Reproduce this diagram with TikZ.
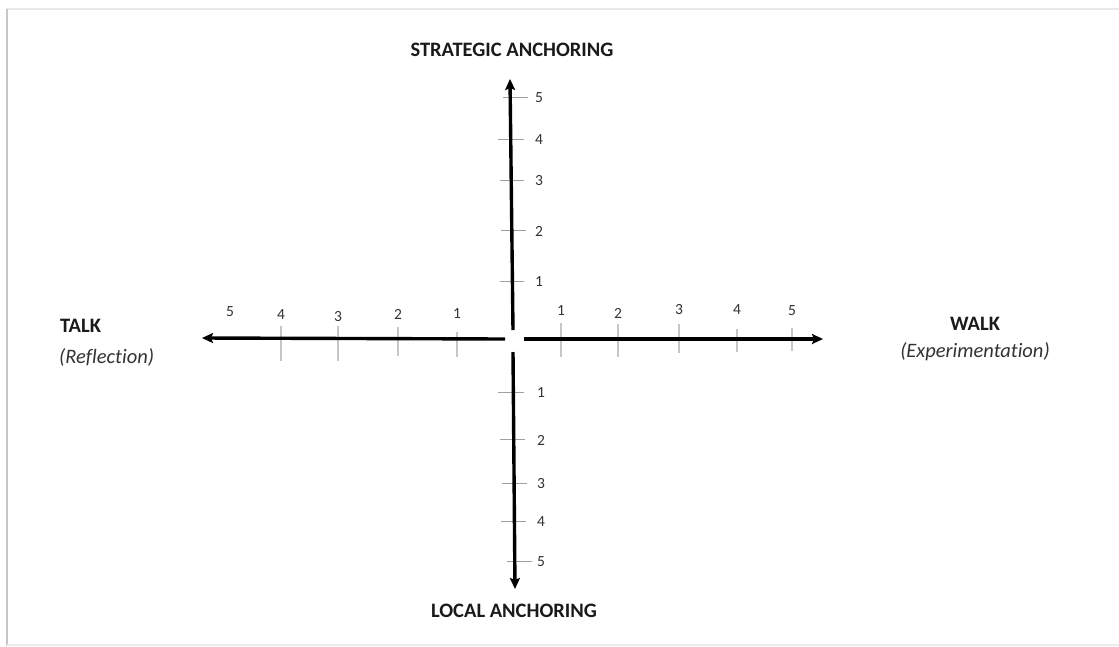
\documentclass[tikz,border=0pt]{standalone}
\usepackage{fontspec}
\setmainfont{Carlito}[Ligatures={NoCommon}]
\usetikzlibrary{arrows.meta}
\definecolor{txt}{HTML}{1A1A1A}
\definecolor{num}{HTML}{333333}
\begin{document}
\begin{tikzpicture}[x=1pt,y=-1pt,
  axis/.style={line width=3.4pt,black,-{Stealth[length=11pt,width=10pt,inset=2pt]}},
  vtick/.style={gray!75,line width=1pt},
  htick/.style={gray!45,line width=1.5pt},
  numlbl/.style={font=\fontsize{15.5}{17}\selectfont,text=num,inner sep=0pt},
  title/.style={font=\fontsize{20.5}{24}\selectfont\bfseries,text=txt,inner sep=0pt},
  sub/.style={font=\fontsize{20.5}{24}\selectfont\itshape,text=num,inner sep=0pt}]
\useasboundingbox (0,0) rectangle (1119,646);
\fill[white] (0,0) rectangle (1119,646);
% frame shadow
\draw[gray!18,line width=2.5pt] (7,9) -- (1119,9);
\draw[gray!45,line width=2pt] (7,9) -- (7,646);
\draw[gray!15,line width=1.5pt] (7,645) -- (1119,645);
% axis coordinates
\coordinate (upS) at (513,330);
\coordinate (upE) at (510,79);
\coordinate (dnS) at (513,352);
\coordinate (dnE) at (515,589);
\coordinate (lfS) at (505,339);
\coordinate (lfE) at (202,338);
\coordinate (rtS) at (524,339);
\coordinate (rtE) at (823,339);
% ticks vertical top
\foreach \n/\y/\a/\b in {5/97/503/528,4/139/498/524,3/180/500/524,2/230/501/526,1/281/500/524}{
  \coordinate (ut\n a) at (\a,\y); \coordinate (ut\n b) at (\b,\y);
  \draw[vtick] (ut\n a) -- (ut\n b);
  \node[numlbl,anchor=west] (utl\n) at (535,\y+1) {\n};
}
% ticks vertical bottom
\foreach \n/\y/\a/\b in {1/392/498/524,2/439/500/525,3/483/502/527,4/521/501/526,5/561/507/532}{
  \coordinate (dt\n a) at (\a,\y); \coordinate (dt\n b) at (\b,\y);
  \draw[vtick] (dt\n a) -- (dt\n b);
  \node[numlbl,anchor=west] (dtl\n) at (537,\y+1) {\n};
}
% ticks horizontal left
\foreach \n/\x/\a/\b/\ly in {4/281/326/361/315,3/338/326/361/317,2/398/327/356/314,1/457/332/357/314}{
  \coordinate (lt\n a) at (\x,\a); \coordinate (lt\n b) at (\x,\b);
  \draw[htick] (lt\n a) -- (lt\n b);
  \node[numlbl] (ltl\n) at (\x,\ly) {\n};
}
\node[numlbl] (ltl5) at (230,312) {5};
% ticks horizontal right
\foreach \n/\x/\a/\b/\ly in {1/561/323/357/311,2/618/324/357/313,3/679/324/353/310,4/737/329/352/310,5/792/328/351/311}{
  \coordinate (rt\n a) at (\x,\a); \coordinate (rt\n b) at (\x,\b);
  \draw[htick] (rt\n a) -- (rt\n b);
  \node[numlbl] (rtl\n) at (\x,\ly) {\n};
}
% axes
\draw[axis] (upS) -- (upE);
\draw[axis] (dnS) -- (dnE);
\draw[axis] (lfS) -- (lfE);
\draw[axis] (rtS) -- (rtE);
% titles
\node[title] (strat) at (512,50) {STRATEGIC ANCHORING};
\node[title] (local) at (514,611) {LOCAL ANCHORING};
\node[title,anchor=west] (talk) at (60,326) {TALK};
\node[sub,anchor=west] (refl) at (59,357) {(Reflection)};
\node[title] (walk) at (975,324) {WALK};
\node[sub] (exper) at (975,352) {(Experimentation)};
\end{tikzpicture}
\end{document}
